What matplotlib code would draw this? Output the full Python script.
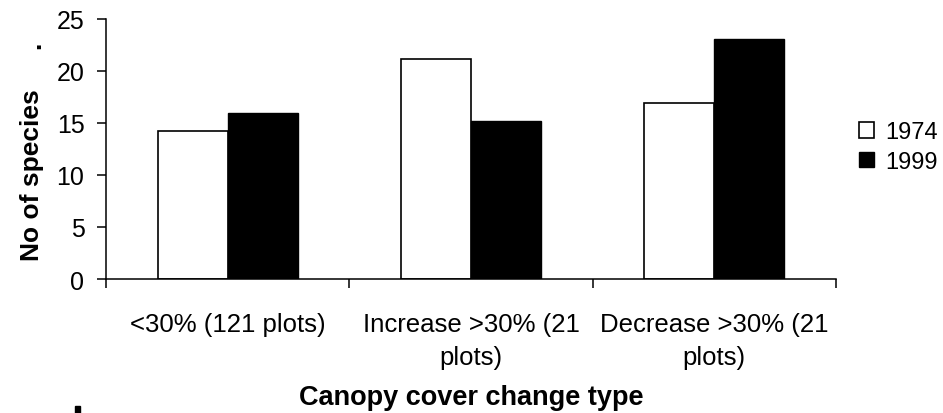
import matplotlib
matplotlib.use("Agg")
import matplotlib.pyplot as plt
from matplotlib.patches import Rectangle
import numpy as np

categories = ["<30% (121 plots)", "Increase >30% (21\nplots)", "Decrease >30% (21\nplots)"]
series_names = ["1974", "1999"]
values_1974 = [14.2, 21.2, 16.9]
values_1999 = [16.0, 15.2, 23.1]
yticks = [0, 5, 10, 15, 20, 25]

plt.rcParams['font.family'] = ['Liberation Sans', 'DejaVu Sans']

W, H = 943, 414
fig = plt.figure(figsize=(W / 100, H / 100), dpi=100)
ax = fig.add_axes([106 / W, 1 - 280 / H, (836 - 106) / W, (280 - 20) / H])

x = np.arange(len(categories))
bw = 0.288
ax.bar(x - bw / 2, values_1974, bw, color='white', edgecolor='black', linewidth=1.2, label=series_names[0])
ax.bar(x + bw / 2, values_1999, bw, color='black', edgecolor='black', linewidth=1.0, label=series_names[1])

ax.set_xlim(-0.5, 2.5)
ax.set_ylim(0, 25)
ax.set_yticks(yticks)
ax.set_yticklabels([str(v) for v in yticks], fontsize=18)
ax.set_xticks([-0.5, 0.5, 1.5, 2.5])
ax.set_xticklabels([])
ax.set_xticks(x, minor=True)
ax.set_xticklabels(categories, minor=True, fontsize=18.5, linespacing=1.45, va='top')
ax.tick_params(axis='x', which='minor', length=0, pad=24)
ax.tick_params(axis='both', which='major', direction='out', length=6.5, width=1.1, colors='black')
ax.tick_params(axis='y', pad=9)

for s in ['top', 'right']:
    ax.spines[s].set_visible(False)
for s in ['left', 'bottom']:
    ax.spines[s].set_linewidth(1.1)

fig.text(32 / W, 1 - 175 / H, "No of species", rotation=90, fontsize=19, fontweight='bold',
         ha='center', va='center')
fig.text(33 / W, 1 - 45 / H, ".", rotation=90, fontsize=19, fontweight='bold',
         ha='center', va='center')
fig.text(471 / W, 1 - 398 / H, "Canopy cover change type", fontsize=19.5, fontweight='bold',
         ha='center', va='center')
fig.patches.append(Rectangle((75 / W, 0), 5 / W, 7 / H, transform=fig.transFigure,
                             color='black', zorder=5))

leg = ax.legend(loc='center left', bbox_to_anchor=(859 / W, 1 - 148 / H),
                bbox_transform=fig.transFigure, frameon=False, fontsize=17,
                handlelength=0.65, handleheight=0.65, handletextpad=0.45, labelspacing=0.32,
                borderpad=0, borderaxespad=0)

fig.savefig("out.png", dpi=100)
